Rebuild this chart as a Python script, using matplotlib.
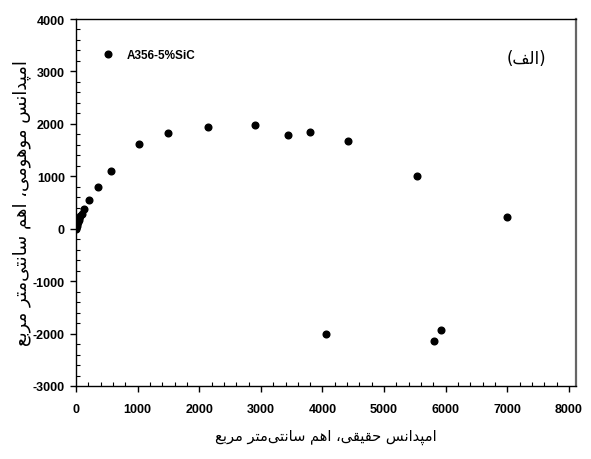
import matplotlib
matplotlib.use('Agg')
import matplotlib.pyplot as plt
from matplotlib.ticker import MultipleLocator

# Nyquist data, A356-5%SiC (ohm.cm^2)
z_real = [0, 5, 12, 20, 30, 42, 55, 70, 90, 130, 206, 352, 568, 1028, 1488,
          2137, 2911, 3447, 3799, 4416, 5536, 6992, 4053, 5806, 5920]
z_imag = [0, 20, 50, 85, 120, 160, 200, 245, 290, 376, 553, 801, 1095, 1610, 1825,
          1946, 1984, 1787, 1851, 1677, 1000, 224, -2003, -2142, -1926]

series_label = 'A356-5%SiC'
panel_label = '(الف)'
x_label = 'امپدانس حقیقی، اهم سانتی\u200cمتر مربع'
y_label = 'امپدانس موهومی، اهم سانتی\u200cمتر مربع'

# arabic presentation forms: (isolated, final, initial, medial)
FORMS = {
    'ا': ('\uFE8D', '\uFE8E', None, None),
    'ب': ('\uFE8F', '\uFE90', '\uFE91', '\uFE92'),
    'پ': ('\uFB56', '\uFB57', '\uFB58', '\uFB59'),
    'ت': ('\uFE95', '\uFE96', '\uFE97', '\uFE98'),
    'ح': ('\uFEA1', '\uFEA2', '\uFEA3', '\uFEA4'),
    'د': ('\uFEA9', '\uFEAA', None, None),
    'ر': ('\uFEAD', '\uFEAE', None, None),
    'س': ('\uFEB1', '\uFEB2', '\uFEB3', '\uFEB4'),
    'ع': ('\uFEC9', '\uFECA', '\uFECB', '\uFECC'),
    'ف': ('\uFED1', '\uFED2', '\uFED3', '\uFED4'),
    'ق': ('\uFED5', '\uFED6', '\uFED7', '\uFED8'),
    'ل': ('\uFEDD', '\uFEDE', '\uFEDF', '\uFEE0'),
    'م': ('\uFEE1', '\uFEE2', '\uFEE3', '\uFEE4'),
    'ن': ('\uFEE5', '\uFEE6', '\uFEE7', '\uFEE8'),
    'ه': ('\uFEE9', '\uFEEA', '\uFEEB', '\uFEEC'),
    'و': ('\uFEED', '\uFEEE', None, None),
    'ی': ('\uFBFC', '\uFBFD', '\uFBFE', '\uFBFF'),
}
MIRROR = {'(': ')', ')': '('}


def shape(text):
    # join letters and flip to visual (left-to-right) order
    out = []
    for i, ch in enumerate(text):
        forms = FORMS.get(ch)
        if forms is None:
            out.append(MIRROR.get(ch, ch))
            continue
        prev = text[i - 1] if i > 0 else None
        nxt = text[i + 1] if i + 1 < len(text) else None
        join_prev = prev in FORMS and FORMS[prev][2] is not None
        join_next = forms[2] is not None and nxt in FORMS
        if join_prev and join_next:
            out.append(forms[3])
        elif join_prev:
            out.append(forms[1])
        elif join_next:
            out.append(forms[2])
        else:
            out.append(forms[0])
    return ''.join(reversed([c for c in out if c != '\u200c']))


plt.rcParams['font.family'] = ['Liberation Sans', 'DejaVu Sans']
plt.rcParams['axes.unicode_minus'] = False

fig = plt.figure(figsize=(5.91, 4.60), dpi=100)
ax = fig.add_axes([0.1286, 0.1587, 0.846, 0.7978])

ax.plot(z_real, z_imag, 'o', color='black', markersize=4.8, label=series_label)

ax.set_xlim(0, 8114)
ax.set_ylim(-3000, 4000)
ax.set_xticks(range(0, 8001, 1000))
ax.set_yticks(range(-3000, 4001, 1000))
ax.xaxis.set_minor_locator(MultipleLocator(200))
ax.yaxis.set_minor_locator(MultipleLocator(200))
ax.tick_params(which='major', direction='out', length=4, width=1)
ax.tick_params(which='minor', direction='in', length=3, width=0.8)
ax.tick_params(axis='x', which='major', pad=8)
ax.tick_params(axis='y', which='major', pad=4)
for lbl in ax.get_xticklabels() + ax.get_yticklabels():
    lbl.set_fontweight('bold')
    lbl.set_fontsize(9)

for side in ['left', 'bottom', 'top']:
    ax.spines[side].set_linewidth(1.0)
ax.spines['right'].set_color('0.4')
ax.spines['right'].set_linewidth(1.6)

leg = ax.legend(loc='center left', bbox_to_anchor=(0.052, 0.902), frameon=False,
                numpoints=1, handlelength=1.0, handletextpad=1.1,
                borderpad=0, borderaxespad=0,
                prop={'weight': 'bold', 'size': 8.5})

ax.text(0.9, 0.894, shape(panel_label), transform=ax.transAxes,
        ha='center', va='center', fontsize=12, family='DejaVu Sans')

ax.set_xlabel(shape(x_label), family='DejaVu Sans', fontsize=10.5, va='center')
ax.xaxis.set_label_coords(0.5, -0.136)
ax.set_ylabel(shape(y_label), family='DejaVu Sans', fontsize=13, va='center')
ax.yaxis.set_label_coords(-0.108, 0.5)

fig.savefig('out.png', dpi=100)
